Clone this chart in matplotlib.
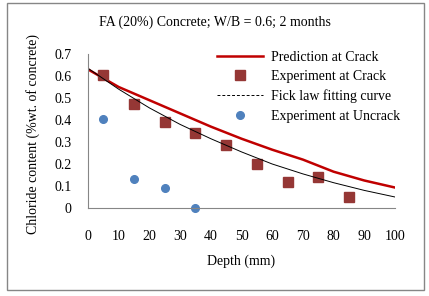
import matplotlib.pyplot as plt
from matplotlib.lines import Line2D
from matplotlib.patches import Rectangle

plt.rcParams['font.family'] = ['Liberation Serif', 'DejaVu Serif']

# Data
depth_line = [0, 10, 20, 30, 40, 50, 60, 70, 80, 90, 100]
prediction_crack = [0.63, 0.55, 0.49, 0.43, 0.37, 0.315, 0.265, 0.22, 0.165, 0.125, 0.093]
fick_fit = [0.635, 0.54, 0.455, 0.38, 0.315, 0.255, 0.2, 0.155, 0.115, 0.08, 0.05]

depth_crack = [5, 15, 25, 35, 45, 55, 65, 75, 85]
exp_crack = [0.605, 0.473, 0.392, 0.34, 0.286, 0.2, 0.118, 0.142, 0.051]

depth_uncrack = [5, 15, 25, 35]
exp_uncrack = [0.403, 0.132, 0.092, 0.0]

xticks = list(range(0, 101, 10))
yticks = [0, 0.1, 0.2, 0.3, 0.4, 0.5, 0.6, 0.7]

fig = plt.figure(figsize=(4.29, 2.96), dpi=100)
fig.patches.append(Rectangle((7 / 429, 1 - 290 / 296), 417 / 429, 287 / 296,
                             transform=fig.transFigure, fill=False,
                             edgecolor='#868686', linewidth=1))
ax = fig.add_axes([88 / 429, 1 - 208 / 296, 307 / 429, 154 / 296])

ax.plot(depth_line, prediction_crack, color='#C00000', linewidth=1.8)
ax.plot(depth_crack, exp_crack, 's', color='#953735', markersize=6.5, linestyle='none')
ax.plot(depth_line, fick_fit, color='black', linewidth=0.7)
ax.plot(depth_uncrack, exp_uncrack, 'o', color='#4F81BD', markersize=5.5,
        linestyle='none', clip_on=False)

ax.set_xlim(0, 100)
ax.set_ylim(0, 0.7)
ax.set_xticks(xticks)
ax.set_yticks(yticks)
ax.set_yticklabels(['0'] + [f'{v:.1f}' for v in yticks[1:]])
ax.tick_params(length=0, labelsize=10)
ax.tick_params(axis='x', pad=16)
ax.tick_params(axis='y', pad=12)
for s in ['top', 'right']:
    ax.spines[s].set_visible(False)
for s in ['left', 'bottom']:
    ax.spines[s].set_color('#868686')

fig.text(0.5, 1 - 22 / 296, 'FA (20%) Concrete; W/B = 0.6; 2 months',
         ha='center', va='center', fontsize=10)
fig.text(241 / 429, 1 - 261 / 296, 'Depth (mm)', ha='center', va='center', fontsize=10)
fig.text(33 / 429, 1 - 134 / 296, 'Chloride content (%wt. of concrete)',
         ha='center', va='center', rotation=90, fontsize=10)

handles = [
    Line2D([], [], color='#C00000', linewidth=1.8),
    Line2D([], [], marker='s', color='#953735', markersize=6.5, linestyle='none'),
    Line2D([], [], color='black', linewidth=0.7, linestyle=(0, (3, 2))),
    Line2D([], [], marker='o', color='#4F81BD', markersize=5.5, linestyle='none'),
]
labels = ['Prediction at Crack', 'Experiment at Crack',
          'Fick law fitting curve', 'Experiment at Uncrack']
fig.legend(handles, labels, loc='upper left', bbox_to_anchor=(217 / 429, 1 - 51 / 296),
           frameon=False, fontsize=10, handlelength=3.3, handletextpad=0.6,
           labelspacing=0.45, borderpad=0, borderaxespad=0)

fig.savefig('out.png', dpi=100)
